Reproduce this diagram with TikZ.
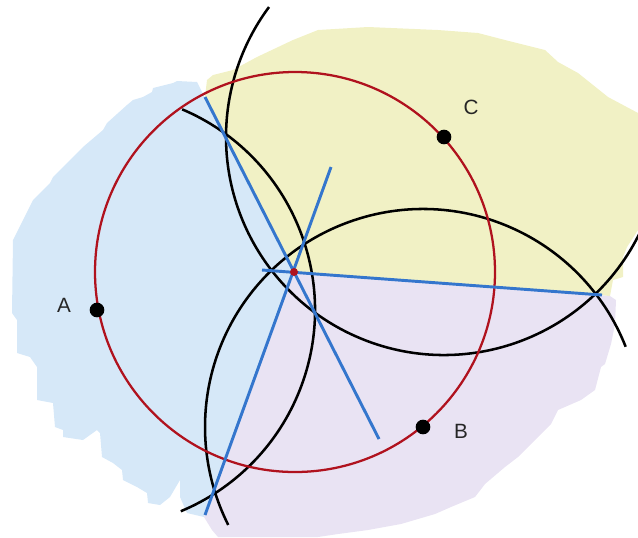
\documentclass[tikz,border=0pt]{standalone}
\usepackage{fontspec}
\setmainfont{Liberation Sans}
\definecolor{regA}{RGB}{214,232,248}
\definecolor{regB}{RGB}{233,227,243}
\definecolor{regC}{RGB}{241,241,197}
\definecolor{circred}{RGB}{176,18,30}
\definecolor{bisblue}{RGB}{52,118,205}
\tikzset{
  arcline/.style={draw=black, line width=1.9pt},
  redcirc/.style={draw=circred, line width=1.7pt},
  bis/.style={draw=bisblue, line width=2.2pt},
  dot/.style={circle, fill=black, inner sep=0pt, minimum size=11pt},
  cdot/.style={circle, fill=circred, inner sep=0pt, minimum size=6pt},
  lbl/.style={font=\fontsize{15.5}{18}\selectfont, text=black!85, inner sep=0pt}
}
\begin{document}
\begin{tikzpicture}[x=0.75pt,y=-0.75pt]
\useasboundingbox (0,0) rectangle (638,537);
\coordinate (O) at (294,272);
\coordinate (RC) at (295,272);
% regions
\fill[regA] (O) -- (197,82) -- (177,81) -- (173,83) -- (153,88) -- (152,92) -- (143,97) -- (133,100)
  -- (127,105) -- (107,123) -- (103,130) -- (83,147) -- (70,160) -- (53,177) -- (50,183) -- (33,200)
  -- (28,210) -- (13,240) -- (12,313) -- (17,320) -- (17,353) -- (30,357)
  -- (37,367) -- (37,400) -- (53,403) -- (55,427) -- (63,430) -- (63,437) -- (83,440) -- (97,430)
  -- (100,433) -- (102,457) -- (113,463) -- (122,470) -- (123,480) -- (137,487) -- (147,493)
  -- (148,503) -- (160,505) -- (170,497) -- (180,480) -- (180,497) -- (187,513) -- (204,517) -- cycle;
\fill[regC] (O) -- (205,97) -- (207,80) -- (213,75) -- (233,70) -- (257,57) -- (293,40) -- (318,30)
  -- (368,27) -- (438,30) -- (478,33) -- (505,40) -- (545,50) -- (558,62) -- (578,73) -- (608,97)
  -- (638,113) -- (638,230) -- (627,247) -- (623,257) -- (623,277) -- (613,280) -- (610,296) -- cycle;
\fill[regB] (O) -- (610,296) -- (616,300) -- (615,324) -- (611,344) -- (605,364) -- (601,367)
  -- (595,390) -- (581,400) -- (558,410) -- (551,424) -- (535,440) -- (518,457) -- (505,467)
  -- (485,484) -- (475,497) -- (451,507) -- (435,514) -- (401,524) -- (368,530) -- (338,534)
  -- (318,537) -- (218,537) -- (212,530) -- (204,517) -- cycle;
% compass arcs
\draw[arcline] (97,310) ++(-67:218) arc[start angle=-67, end angle=67.4, radius=218];
\draw[arcline] (423,427) ++(-21.6:218) arc[start angle=-21.6, end angle=-206.7, radius=218];
\draw[arcline] (444,137) ++(25.4:218) arc[start angle=25.4, end angle=216.6, radius=218];
% circumcircle
\draw[redcirc] (RC) circle[radius=200];
% perpendicular bisectors
\coordinate (ac1) at (205,97);
\coordinate (ac2) at (379,439);
\coordinate (ab1) at (331,167);
\coordinate (ab2) at (205,515);
\coordinate (bc1) at (262,270);
\coordinate (bc2) at (602,295);
\draw[bis] (ac1) -- (ac2);
\draw[bis] (ab1) -- (ab2);
\draw[bis] (bc1) -- (bc2);
% points
\node[dot] (A) at (97,310) {};
\node[dot] (B) at (423,427) {};
\node[dot] (C) at (444,137) {};
\node[cdot] (Oc) at (O) {};
\node[lbl] (la) at (64,305) {A};
\node[lbl] (lb) at (461,431) {B};
\node[lbl] (lc) at (471,107) {C};
\end{tikzpicture}
\end{document}
